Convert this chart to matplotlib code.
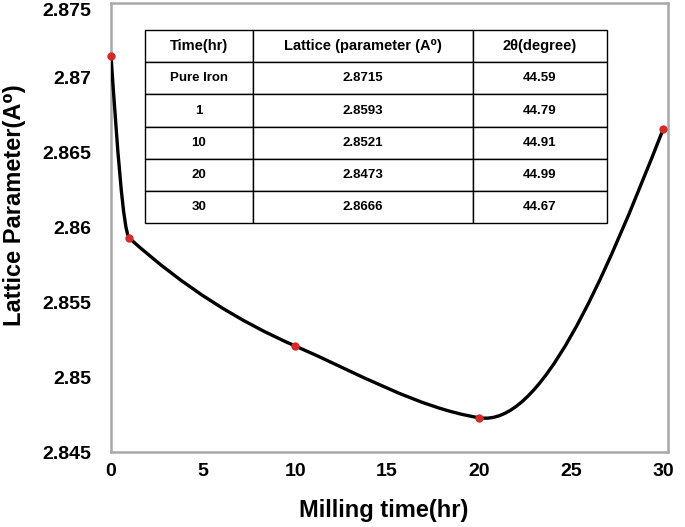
import matplotlib
matplotlib.use("Agg")
import matplotlib.pyplot as plt
from matplotlib.path import Path
from matplotlib.patches import PathPatch

# ---- data ----
milling_time = [0, 1, 10, 20, 30]
lattice_param = [2.8715, 2.8593, 2.8521, 2.8473, 2.8666]
table_time_labels = ["Pure Iron", "1", "10", "20", "30"]
table_lattice = ["2.8715", "2.8593", "2.8521", "2.8473", "2.8666"]
table_two_theta = ["44.59", "44.79", "44.91", "44.99", "44.67"]
table_headers = ["Time(hr)", "Lattice (parameter (A\u2070)", "2\u03b8(degree)"]
x_ticks = [0, 5, 10, 15, 20, 25, 30]
y_ticks = [2.845, 2.85, 2.855, 2.86, 2.865, 2.87, 2.875]
y_tick_labels = ["2.845", "2.85", "2.855", "2.86", "2.865", "2.87", "2.875"]

FONT = ["Liberation Sans", "DejaVu Sans"]
plt.rcParams["font.family"] = FONT

fig = plt.figure(figsize=(6.85, 5.27), dpi=100)
ax = fig.add_axes([0.162, 0.142, 0.813, 0.852])


def akima_slopes(x, y):
    n = len(x)
    d = [(y[i + 1] - y[i]) / (x[i + 1] - x[i]) for i in range(n - 1)]
    # extend slopes at both ends (Akima end rule)
    dm1 = 2 * d[0] - d[1]
    dm2 = 2 * dm1 - d[0]
    dp1 = 2 * d[-1] - d[-2]
    dp2 = 2 * dp1 - d[-1]
    ext = [dm2, dm1] + d + [dp1, dp2]
    m = []
    for i in range(n):
        a, b, c, e = ext[i], ext[i + 1], ext[i + 2], ext[i + 3]
        w1 = abs(e - c)
        w2 = abs(b - a)
        if w1 + w2 == 0:
            m.append(0.5 * (b + c))
        else:
            m.append((w1 * b + w2 * c) / (w1 + w2))
    return m


# smooth line (Hermite/Bezier rendering through the data points)
m = akima_slopes(milling_time, lattice_param)
verts = [(milling_time[0], lattice_param[0])]
codes = [Path.MOVETO]
for i in range(len(milling_time) - 1):
    x0, x1 = milling_time[i], milling_time[i + 1]
    y0, y1 = lattice_param[i], lattice_param[i + 1]
    h = x1 - x0
    verts += [(x0 + h / 3, y0 + m[i] * h / 3),
              (x1 - h / 3, y1 - m[i + 1] * h / 3),
              (x1, y1)]
    codes += [Path.CURVE4] * 3
ax.add_patch(PathPatch(Path(verts, codes), facecolor="none",
                       edgecolor="black", lw=2.4, zorder=3,
                       capstyle="round", joinstyle="round"))

ax.plot(milling_time, lattice_param, linestyle="none", marker="o",
        markersize=6, color="#d42a2a", markeredgewidth=0, zorder=4,
        clip_on=False)

ax.set_xlim(0, 30.25)
ax.set_ylim(2.845, 2.875)
ax.set_xticks(x_ticks)
ax.set_xticklabels([str(t) for t in x_ticks])
ax.set_yticks(y_ticks)
ax.set_yticklabels(y_tick_labels)
ax.tick_params(axis="both", length=0, labelsize=14)
ax.tick_params(axis="x", pad=8)
ax.tick_params(axis="y", pad=14)
for lbl in ax.get_xticklabels() + ax.get_yticklabels():
    lbl.set_fontweight("bold")
ax.get_yticklabels()[-1].set_va("top")

for s in ax.spines.values():
    s.set_color("#a8a8a8")
    s.set_linewidth(1.8)

ax.set_xlabel("Milling time(hr)", fontsize=17, fontweight="bold")
ax.xaxis.set_label_coords(0.49, -0.105)
ax.set_ylabel("Lattice Parameter(A\u2070)", fontsize=17, fontweight="bold")
ax.yaxis.set_label_coords(-0.152, 0.55)

# inset table
cell_text = [[t, l, th] for t, l, th in zip(table_time_labels, table_lattice,
                                           table_two_theta)]
tbl = ax.table(cellText=cell_text, colLabels=table_headers,
               colWidths=[0.234, 0.476, 0.290], cellLoc="center",
               bbox=[0.061, 0.510, 0.829, 0.430], zorder=5)
tbl.auto_set_font_size(False)
for (r, c), cell in tbl.get_celld().items():
    cell.set_edgecolor("black")
    cell.set_linewidth(1.0)
    cell.set_facecolor("white")
    txt = cell.get_text()
    txt.set_fontweight("bold")
    txt.set_fontsize(10.5 if r == 0 else 9.5)

fig.savefig("out.png", dpi=100)
